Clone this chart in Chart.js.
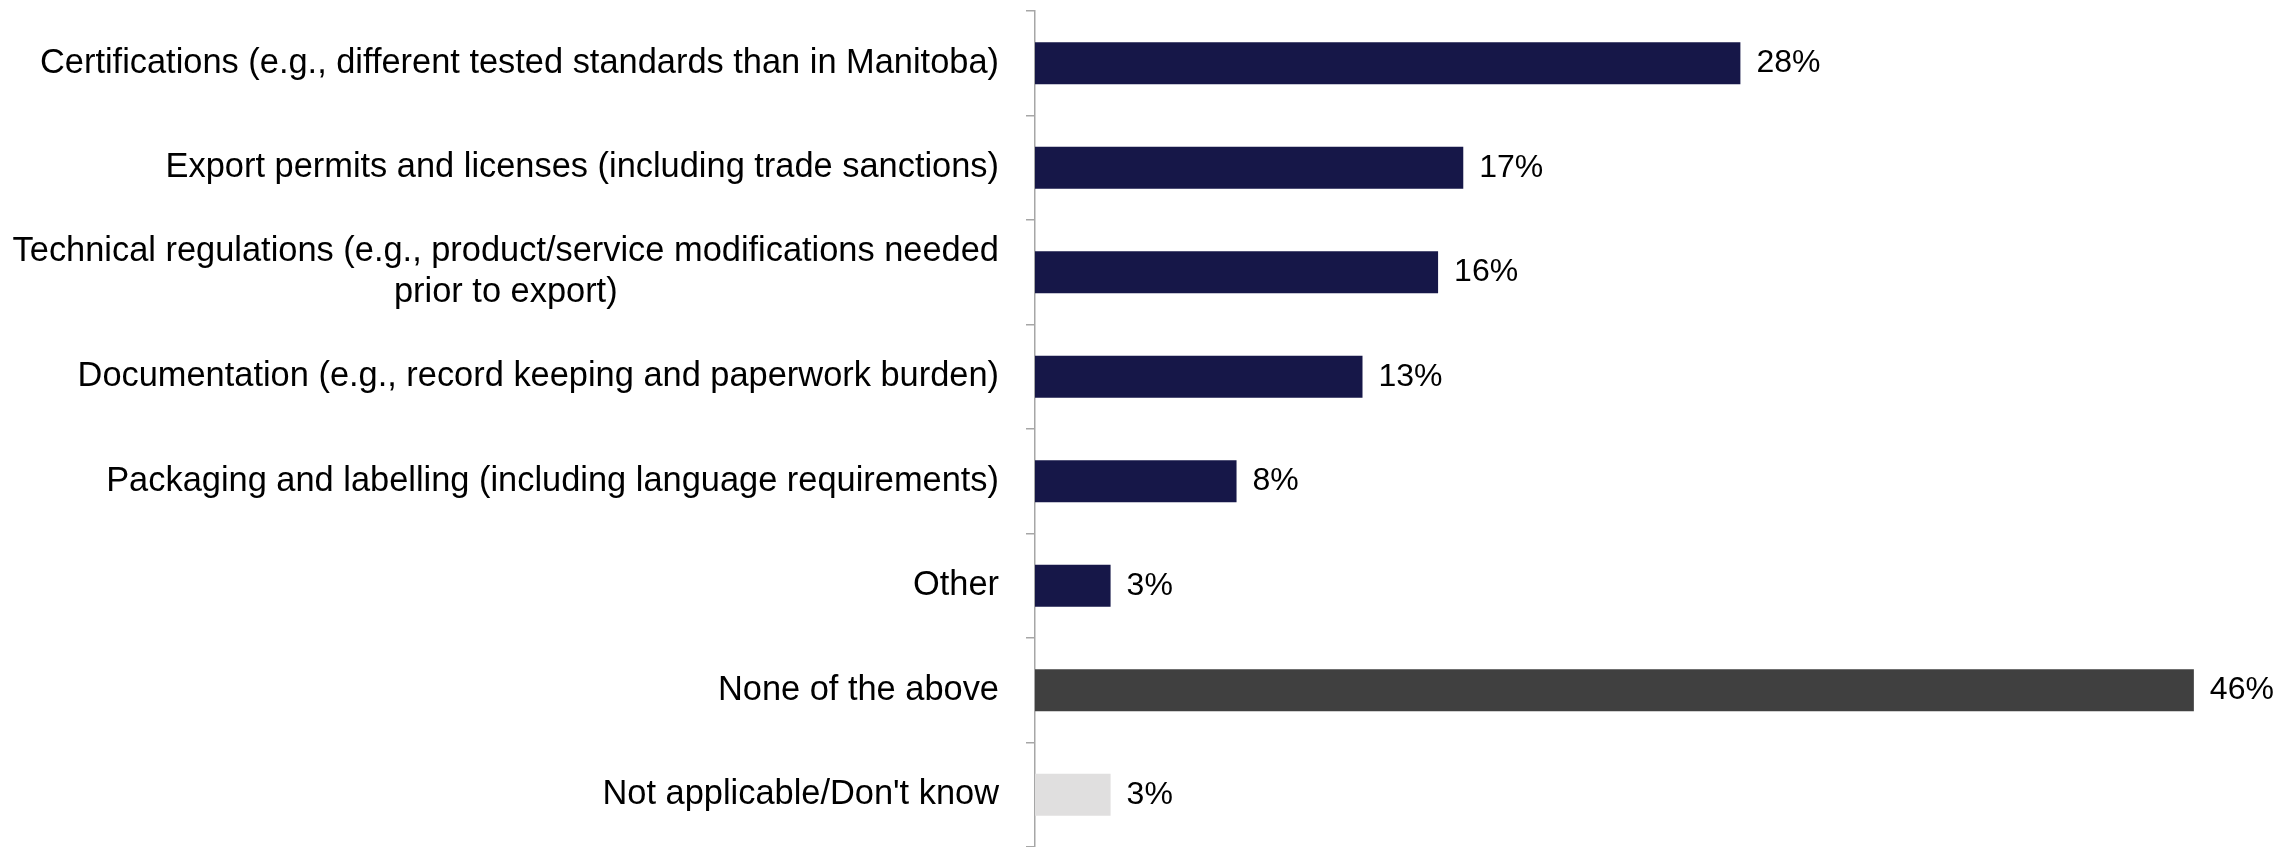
<!DOCTYPE html>
<html>
<head>
<meta charset="utf-8">
<script src="https://cdn.jsdelivr.net/npm/chart.js@4.4.1/dist/chart.umd.min.js"></script>
<style>
  html, body { margin: 0; padding: 0; background: #ffffff; }
  #wrap { width: 2277px; height: 847px; position: relative; }
</style>
</head>
<body>
<div id="wrap"><canvas id="chart"></canvas></div>
<script>
// Categories (multi-line labels are given as arrays of lines)
const categories = [
  "Certifications (e.g., different tested standards than in Manitoba)",
  "Export permits and licenses (including trade sanctions)",
  ["Technical regulations (e.g., product/service modifications needed", "prior to export)"],
  "Documentation (e.g., record keeping and paperwork burden)",
  "Packaging and labelling (including language requirements)",
  "Other",
  "None of the above",
  "Not applicable/Don't know"
];
// Share of respondents, in percent
const values = [28, 17, 16, 13, 8, 3, 46, 3];
const barColors = ["#161748", "#161748", "#161748", "#161748", "#161748", "#161748", "#404040", "#e0dfdf"];

const FONT = "'Liberation Sans Narrow', 'Arial Narrow', sans-serif";
const FONT_SIZE = 34.4;
const VALUE_FONT_SIZE = 32;
const AXIS_LEFT = 1035;   // x of the category axis line
const LABEL_GAP = 36;     // gap between category text and axis line

// Category text, right-aligned; extra lines centred under the first
const categoryLabels = {
  id: 'categoryLabels',
  afterDraw(chart) {
    const ctx = chart.ctx;
    const yScale = chart.scales.y;
    const right = yScale.right - LABEL_GAP;
    const lineH = FONT_SIZE * 1.2;
    ctx.save();
    ctx.font = FONT_SIZE + 'px ' + FONT;
    ctx.fillStyle = '#000000';
    ctx.textBaseline = 'middle';
    categories.forEach((lab, i) => {
      const lines = Array.isArray(lab) ? lab : [lab];
      const y = yScale.getPixelForTick(i);
      const widest = Math.max(...lines.map(l => ctx.measureText(l).width));
      const cx = right - widest / 2;
      const top = y - (lines.length - 1) * lineH / 2;
      lines.forEach((l, k) => {
        ctx.textAlign = lines.length > 1 ? 'center' : 'right';
        ctx.fillText(l, lines.length > 1 ? cx : right, top + k * lineH);
      });
    });
    ctx.restore();
  }
};

// Value labels to the right of each bar
const valueLabels = {
  id: 'valueLabels',
  afterDatasetsDraw(chart) {
    const ctx = chart.ctx;
    const meta = chart.getDatasetMeta(0);
    ctx.save();
    ctx.font = VALUE_FONT_SIZE + 'px ' + FONT;
    ctx.fillStyle = '#000000';
    ctx.textAlign = 'left';
    ctx.textBaseline = 'middle';
    meta.data.forEach((bar, i) => {
      ctx.fillText(values[i] + '%', bar.x + 16, bar.y);
    });
    ctx.restore();
  }
};

new Chart(document.getElementById('chart'), {
  type: 'bar',
  data: {
    labels: categories,
    datasets: [{
      data: values,
      backgroundColor: barColors,
      borderWidth: 0,
      barPercentage: 0.8,
      categoryPercentage: 0.5
    }]
  },
  options: {
    indexAxis: 'y',
    responsive: true,
    maintainAspectRatio: false,
    animation: false,
    layout: { padding: { top: 11, right: 0, bottom: 0, left: 0 } },
    plugins: {
      legend: { display: false },
      tooltip: { enabled: false }
    },
    scales: {
      x: {
        display: false,
        min: 0,
        max: 49.3
      },
      y: {
        type: 'category',
        offset: true,
        grid: {
          offset: true,
          drawOnChartArea: false,
          drawTicks: true,
          tickLength: 9,
          color: '#a6a6a6',
          lineWidth: 1.5
        },
        border: { display: true, color: '#a6a6a6', width: 1.5 },
        ticks: { display: false },
        afterFit(scale) { scale.width = AXIS_LEFT; }
      }
    }
  },
  plugins: [categoryLabels, valueLabels]
});
</script>
</body>
</html>
